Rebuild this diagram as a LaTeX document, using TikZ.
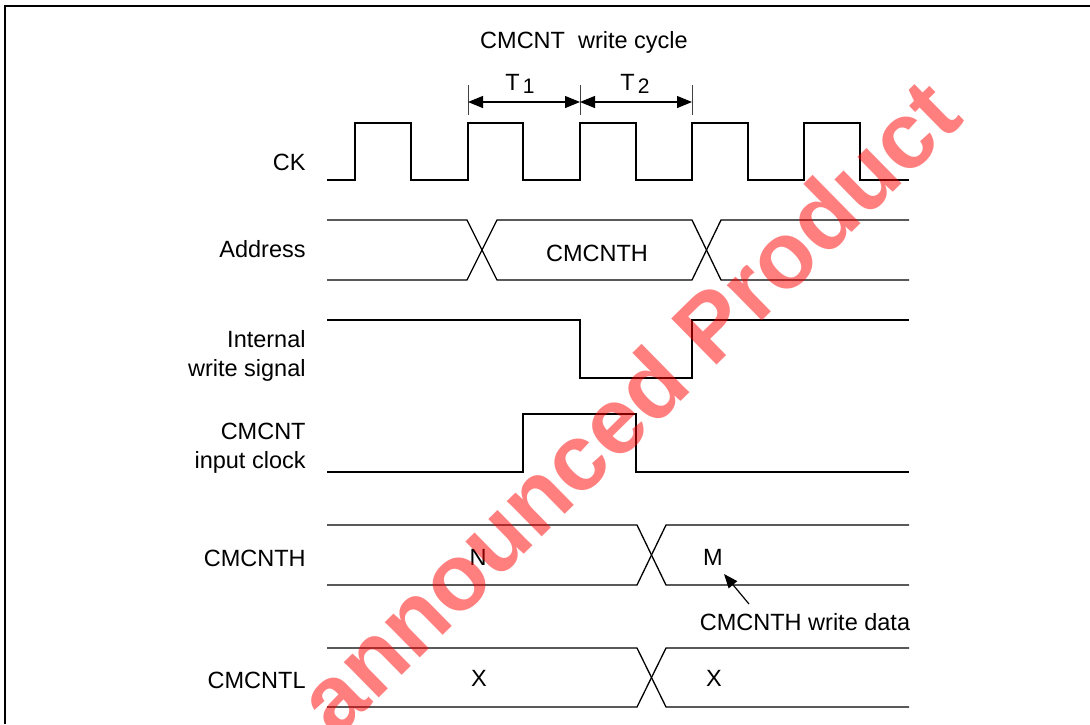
\documentclass[tikz,border=0pt]{standalone}
\usepackage{fontspec}
\setmainfont{Liberation Sans}
\usetikzlibrary{arrows.meta}
\begin{document}
\begin{tikzpicture}[x=0.5pt,y=-0.5pt,
  wave/.style={line width=0.65pt,line join=miter},
  frame/.style={line width=1pt},
  tickline/.style={line width=0.5pt,black!75},
  dimarrow/.style={line width=0.6pt,{Triangle[length=7.5pt,width=6pt]}-{Triangle[length=7.5pt,width=6pt]}},
  callout/.style={line width=0.6pt,-{Triangle[length=7pt,width=5.5pt]}},
  lbl/.style={anchor=base east,inner sep=0pt,align=right,font=\fontsize{11.75}{14.5}\selectfont},
  txt/.style={anchor=base,inner sep=0pt,font=\fontsize{11.75}{14.5}\selectfont},
  wmark/.style={inner sep=0pt,text=red,text opacity=0.5,font=\fontsize{47}{47}\selectfont\bfseries}
]
\useasboundingbox (0,0) rectangle (1090,724);
\clip (0,0) rectangle (1090,724);
% frame
\draw[frame] (5,724) -- (5,6) -- (1090,6);

% title and dimension
\node[txt] (title) at (584,48) {CMCNT\ \ write cycle};
\coordinate (d0) at (468,102);
\coordinate (d1) at (580,102);
\coordinate (d2) at (692,102);
\draw[tickline] (468,85) -- (468,115);
\draw[tickline] (580,85) -- (580,115);
\draw[tickline] (692,85) -- (692,115);
\draw[dimarrow] (d0) -- (d1);
\draw[dimarrow] (d1) -- (d2);
\node[txt] (t1) at (520,90) {T\kern1.5pt\raisebox{-0.3ex}{\fontsize{10.5}{10.5}\selectfont 1}};
\node[txt] (t2) at (635,90) {T\kern1.5pt\raisebox{-0.3ex}{\fontsize{10.5}{10.5}\selectfont 2}};

% labels
\node[lbl] (lck) at (306,170) {CK};
\node[lbl] (laddr) at (306,257) {Address};
\node[lbl] (lws) at (306,376) {Internal\\write signal};
\node[lbl] (lic) at (306,468) {CMCNT\\input clock};
\node[lbl] (lh) at (306,566) {CMCNTH};
\node[lbl] (ll) at (306,688) {CMCNTL};

% CK
\draw[wave] (327,180) -- (355,180) -- (355,123) -- (411,123) -- (411,180) -- (468,180) -- (468,123) -- (523,123) -- (523,180) -- (580,180) -- (580,123) -- (636,123) -- (636,180) -- (692,180) -- (692,123) -- (748,123) -- (748,180) -- (804,180) -- (804,123) -- (860,123) -- (860,180) -- (909,180);

% Address
\draw[wave] (327,220) -- (467,220) -- (497,280) -- (692,280) -- (721,220) -- (909,220);
\draw[wave] (327,280) -- (467,280) -- (497,220) -- (692,220) -- (721,280) -- (909,280);
\node[txt] (adata) at (597,261) {CMCNTH};

% Internal write signal
\draw[wave] (327,320) -- (580,320) -- (580,378) -- (692,378) -- (692,320) -- (909,320);

% CMCNT input clock
\draw[wave] (327,472) -- (523,472) -- (523,414) -- (636,414) -- (636,472) -- (909,472);

% CMCNTH
\draw[wave] (327,525) -- (637,525) -- (666,585) -- (909,585);
\draw[wave] (327,585) -- (637,585) -- (666,525) -- (909,525);
\node[txt] (hn) at (478,565) {N};
\node[txt] (hm) at (713,565) {M};

% CMCNTL
\draw[wave] (327,648) -- (637,648) -- (666,707) -- (909,707);
\draw[wave] (327,707) -- (637,707) -- (666,648) -- (909,648);
\node[txt] (lx1) at (479,686) {X};
\node[txt] (lx2) at (714,686) {X};

% callout
\node[txt] (wd) at (805,630) {CMCNTH write data};
\coordinate (mtail) at (749,604);
\coordinate (mtip) at (724,574);
\draw[callout] (mtail) -- (mtip);

% watermark
\node[wmark,rotate=44.5] (wm) at (628,406) {announced Product};
\end{tikzpicture}
\end{document}
